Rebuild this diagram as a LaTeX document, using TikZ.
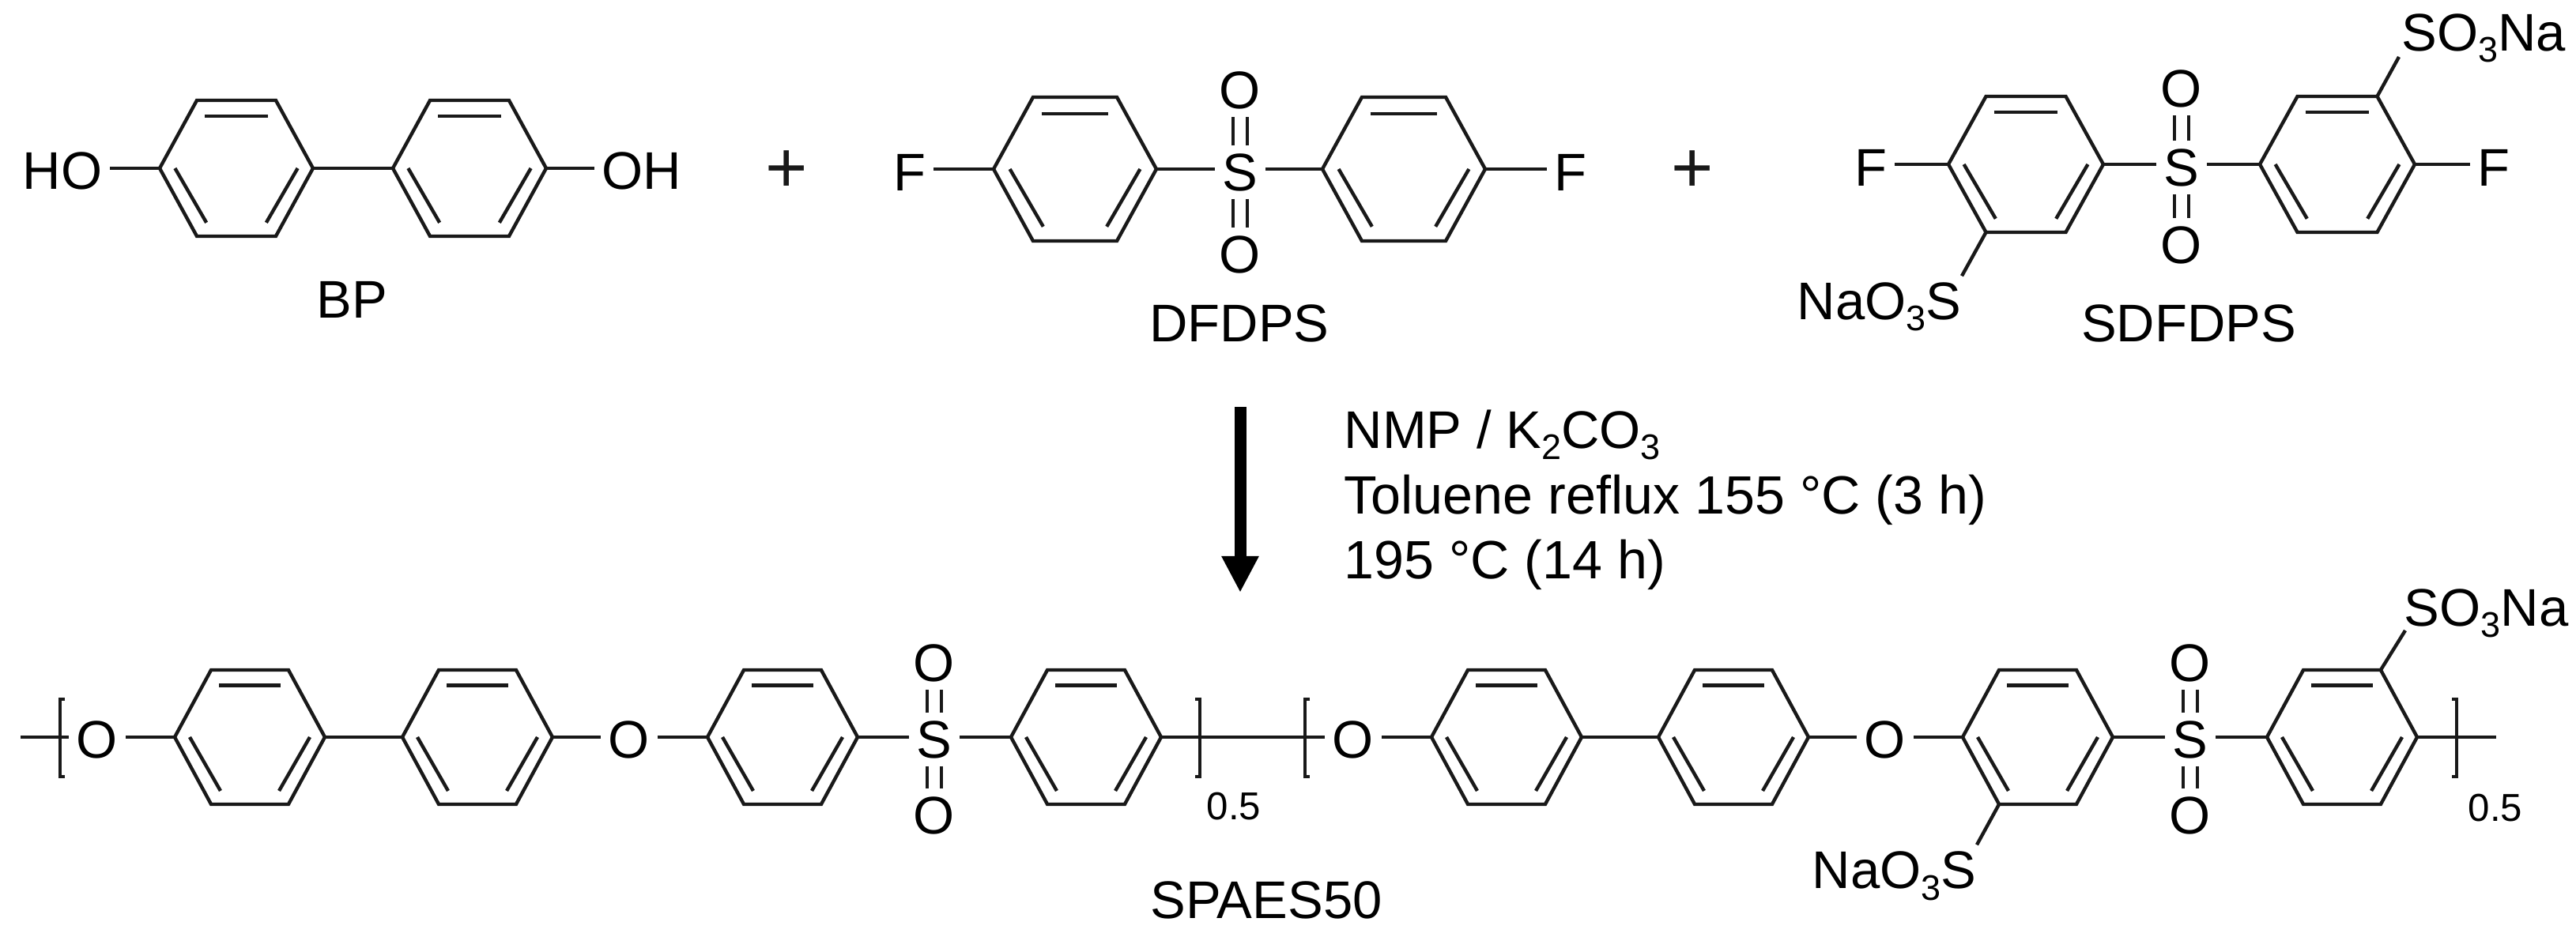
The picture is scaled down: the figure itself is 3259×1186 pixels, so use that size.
\documentclass[tikz,border=0pt]{standalone}
\usepackage{fontspec}
\setmainfont{Liberation Sans}
\usetikzlibrary{arrows.meta}
\newcommand{\subd}[1]{\raisebox{-0.14cm}{\fontsize{12.8pt}{14pt}\selectfont #1}}
% name cx cy R h : hexagon with three inner double-bond strokes
\newcommand{\benzring}[5]{%
  \coordinate (#1l) at ({#2-#4},#3);
  \coordinate (#1r) at ({#2+#4},#3);
  \coordinate (#1tl) at ({#2-0.515*#4},{#3-#5});
  \coordinate (#1tr) at ({#2+0.515*#4},{#3-#5});
  \coordinate (#1bl) at ({#2-0.515*#4},{#3+#5});
  \coordinate (#1br) at ({#2+0.515*#4},{#3+#5});
  \draw[bondline,line join=miter] (#1l) -- (#1tl) -- (#1tr) -- (#1r) -- (#1br) -- (#1bl) -- cycle;
  \draw[bondline] ({#2-0.41*#4},{#3-0.77*#5}) -- ({#2+0.41*#4},{#3-0.77*#5});
  \draw[bondline] ({#2-0.80*#4},#3) -- ({#2-0.39*#4},{#3+0.80*#5});
  \draw[bondline] ({#2+0.80*#4},#3) -- ({#2+0.39*#4},{#3+0.80*#5});
}
\tikzset{
  bondline/.style={line width=1.25pt,color=black!90},
  txt/.style={inner sep=0pt,font=\fontsize{19.06pt}{23pt}\selectfont,text=black},
  atom/.style={txt,text height=0.47cm,text depth=0pt,outer sep=0.1cm},
  label/.style={txt,anchor=base},
  group/.style={txt,text height=0.47cm,text depth=0pt},
  reagent/.style={txt,anchor=base west,font=\fontsize{19.4pt}{23pt}\selectfont},
  smalltxt/.style={inner sep=0pt,font=\fontsize{14pt}{16pt}\selectfont,text=black,anchor=base},
  plussign/.style={inner sep=0pt,font=\fontsize{26pt}{30pt}\selectfont,text=black!90},
}
\begin{document}
\begin{tikzpicture}[x=0.01cm,y=-0.01cm]
\useasboundingbox (0,0) rectangle (3259,1186);
% ---------- BP
\benzring{a}{299}{213}{97}{86}
\benzring{b}{594}{213}{97}{86}
\node[atom] (aHO) at (79,216) {HO};
\node[atom] (bOH) at (812,216) {OH};
\draw[bondline] (al) -- (al -| aHO.east);
\draw[bondline] (ar) -- (bl);
\draw[bondline] (br) -- (br -| bOH.west);
\node[label] (lBP) at (445,403) {BP};
\node[plussign] (p1) at (995,217) {+};
% ---------- DFDPS
\benzring{c}{1360}{214}{103}{91}
\benzring{d}{1776}{214}{103}{91}
\node[atom] (cF) at (1151,218) {F};
\node[atom] (dF) at (1987,218) {F};
\node[atom] (cS) at (1569,218) {S};
\node[atom] (cO1) at (1569,114) {O};
\node[atom] (cO2) at (1569,322) {O};
\draw[bondline] (cl) -- (cl -| cF.east);
\draw[bondline] (cr) -- (cr -| cS.west);
\draw[bondline] (dl) -- (dl -| cS.east);
\draw[bondline] (dr) -- (dr -| dF.west);
\foreach \s in {-0.09,0.09}{
  \draw[bondline] ([xshift=\s cm]cS.north) -- ([xshift=\s cm]cO1.south);
  \draw[bondline] ([xshift=\s cm]cS.south) -- ([xshift=\s cm]cO2.north);
}
\node[label] (lDF) at (1568,433) {DFDPS};
\node[plussign] (p2) at (2141,217) {+};
% ---------- SDFDPS
\benzring{e}{2563}{208}{98}{86}
\benzring{f}{2957}{208}{98}{86}
\node[atom] (eF) at (2367,212) {F};
\node[atom] (fF) at (3155,212) {F};
\node[atom] (eS) at (2760,212) {S};
\node[atom] (eO1) at (2760,112) {O};
\node[atom] (eO2) at (2760,310) {O};
\draw[bondline] (el) -- (el -| eF.east);
\draw[bondline] (er) -- (er -| eS.west);
\draw[bondline] (fl) -- (fl -| eS.east);
\draw[bondline] (fr) -- (fr -| fF.west);
\foreach \s in {-0.09,0.09}{
  \draw[bondline] ([xshift=\s cm]eS.north) -- ([xshift=\s cm]eO1.south);
  \draw[bondline] ([xshift=\s cm]eS.south) -- ([xshift=\s cm]eO2.north);
}
\node[group,anchor=base west] (fSO) at (3038,65) {SO\subd{3}Na};
\node[group,anchor=base east] (eSO) at (2482,405) {NaO\subd{3}S};
\draw[bondline] (ftr) -- ([xshift=-0.03cm,yshift=-0.07cm]fSO.base west);
\draw[bondline] (ebl) -- ([yshift=0.08cm]eSO.north east);
\node[label] (lSD) at (2769,433) {SDFDPS};
% ---------- reaction arrow
\coordinate (ra) at (1569,515);
\coordinate (rb) at (1569,750);
\draw[line width=0.15cm,color=black,-{Triangle[width=0.44cm,length=0.46cm]}] (ra) -- (rb);
\node[txt,anchor=base west] (c1) at (1700,568) {NMP / K\subd{2}CO\subd{3}};
\node[reagent] (c2) at (1700,651) {Toluene reflux 155 °C (3 h)};
\node[reagent] (c3) at (1700,733) {195 °C (14 h)};
% ---------- SPAES50
\benzring{g}{316}{933}{95}{85}
\benzring{h}{604}{933}{95}{85}
\benzring{i}{990}{933}{95}{85}
\benzring{j}{1374}{933}{95}{85}
\benzring{k}{1906}{933}{95}{85}
\benzring{m}{2193}{933}{95}{85}
\benzring{n}{2578}{933}{95}{85}
\benzring{o}{2963}{933}{95}{85}
\coordinate (endL) at (26,933);
\coordinate (endR) at (3158,933);
\node[atom] (O1) at (123,936) {O};
\node[atom] (O2) at (796,936) {O};
\node[atom] (S1) at (1182,936) {S};
\node[atom] (S1a) at (1182,839) {O};
\node[atom] (S1b) at (1182,1032) {O};
\node[atom] (O3) at (1712,936) {O};
\node[atom] (O4) at (2385,936) {O};
\node[atom] (S2) at (2771,936) {S};
\node[atom] (S2a) at (2771,839) {O};
\node[atom] (S2b) at (2771,1032) {O};
\draw[bondline] (endL) -- (endL -| O1.west);
\draw[bondline] (gl) -- (gl -| O1.east);
\draw[bondline] (gr) -- (hl);
\draw[bondline] (hr) -- (hr -| O2.west);
\draw[bondline] (il) -- (il -| O2.east);
\draw[bondline] (ir) -- (ir -| S1.west);
\draw[bondline] (jl) -- (jl -| S1.east);
\draw[bondline] (jr) -- (jr -| O3.west);
\draw[bondline] (kl) -- (kl -| O3.east);
\draw[bondline] (kr) -- (ml);
\draw[bondline] (mr) -- (mr -| O4.west);
\draw[bondline] (nl) -- (nl -| O4.east);
\draw[bondline] (nr) -- (nr -| S2.west);
\draw[bondline] (ol) -- (ol -| S2.east);
\draw[bondline] (or) -- (endR);
\foreach \s in {-0.09,0.09}{
  \draw[bondline] ([xshift=\s cm]S1.north) -- ([xshift=\s cm]S1a.south);
  \draw[bondline] ([xshift=\s cm]S1.south) -- ([xshift=\s cm]S1b.north);
  \draw[bondline] ([xshift=\s cm]S2.north) -- ([xshift=\s cm]S2a.south);
  \draw[bondline] ([xshift=\s cm]S2.south) -- ([xshift=\s cm]S2b.north);
}
\node[group,anchor=base west] (oSO) at (3041,793) {SO\subd{3}Na};
\node[group,anchor=base east] (nSO) at (2501,1125) {NaO\subd{3}S};
\draw[bondline] (otr) -- ([xshift=0.02cm,yshift=-0.05cm]oSO.base west);
\draw[bondline] (nbl) -- ([yshift=0.08cm]nSO.north east);
% brackets
\draw[bondline,line width=0.9pt] (82,885) -- (76,885) -- (76,983) -- (82,983);
\draw[bondline,line width=0.9pt] (1512,885) -- (1518,885) -- (1518,983) -- (1512,983);
\draw[bondline,line width=0.9pt] (1657,885) -- (1651,885) -- (1651,983) -- (1657,983);
\draw[bondline,line width=0.9pt] (3102,885) -- (3108,885) -- (3108,983) -- (3102,983);
\node[smalltxt] (n1) at (1561,1038) {0.5};
\node[smalltxt] (n2) at (3157,1040) {0.5};
\node[label] (lSP) at (1602,1163) {SPAES50};
\end{tikzpicture}
\end{document}
